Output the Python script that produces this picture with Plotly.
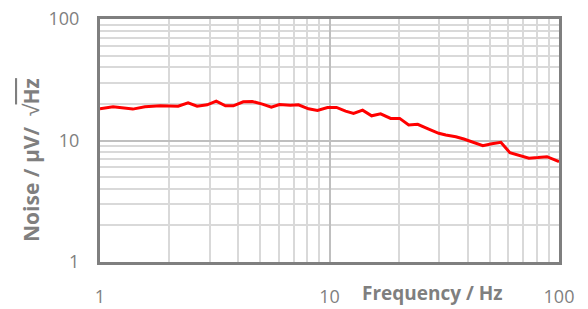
import plotly.graph_objects as go

# Data (frequency in Hz, noise in µV/√Hz)
freq_hz = [1.00, 1.14, 1.39, 1.57, 1.83, 2.19, 2.42, 2.65, 2.93, 3.21,
           3.52, 3.81, 4.21, 4.61, 5.10, 5.58, 6.05, 6.75, 7.32, 8.10,
           8.86, 9.80, 10.73, 11.75, 12.73, 13.94, 15.26, 16.70, 18.47, 20.22,
           22.13, 24.23, 27.06, 29.92, 32.11, 35.50, 38.47, 42.55, 46.58, 50.99,
           55.81, 61.09, 66.89, 73.96, 80.96, 88.63, 100.0]
noise_uv = [18.29, 18.92, 18.13, 18.92, 19.29, 19.18, 20.41, 19.18, 19.65, 21.08,
            19.29, 19.29, 20.80, 20.96, 19.92, 18.82, 19.80, 19.54, 19.65, 18.23,
            17.68, 18.71, 18.71, 17.45, 16.71, 17.78, 15.97, 16.58, 15.20, 15.20,
            13.40, 13.58, 12.42, 11.46, 11.09, 10.74, 10.29, 9.59, 9.06, 9.41,
            9.66, 7.94, 7.60, 7.15, 7.23, 7.36, 6.70]

major_ticks = [1, 10, 100]
major_labels = ["1", "10", "100"]
minor_ticks = [2, 3, 4, 5, 6, 7, 8, 9, 20, 30, 40, 50, 60, 70, 80, 90]

x_title = "<b>Frequency / Hz</b>"
y_title = ("<b>Noise / µV/</b>\u00a0\u00a0√"
           "<span style='text-decoration:overline;font-weight:bold'>Hz</span>")

GRAY = "#7f7f7f"
FONT = "Open Sans"

fig = go.Figure()
fig.add_trace(go.Scatter(
    x=freq_hz, y=noise_uv, mode="lines",
    line=dict(color="#ff0000", width=3),
    showlegend=False, hoverinfo="skip",
))

axis_common = dict(
    type="log",
    tickmode="array",
    tickvals=major_ticks,
    ticktext=major_labels,
    showgrid=True,
    gridcolor="#bfbfbf",
    gridwidth=2,
    minor=dict(tickmode="array", tickvals=minor_ticks, showgrid=True,
               gridcolor="#d9d9d9", gridwidth=2, ticks=""),
    showline=True, linecolor=GRAY, linewidth=3, mirror=True,
    ticks="",
    tickfont=dict(family=FONT, size=18, color=GRAY),
    zeroline=False,
    automargin=False,
)

fig.update_xaxes(range=[0, 2], ticklabelstandoff=16, **axis_common)
fig.update_yaxes(range=[0, 2], ticklabelstandoff=14, **axis_common)

fig.update_layout(
    width=588, height=309,
    margin=dict(l=100, r=29, t=19, b=47, autoexpand=False),
    paper_bgcolor="white", plot_bgcolor="white",
    font=dict(family=FONT, color=GRAY),
    annotations=[
        dict(text=x_title, xref="paper", yref="paper",
             x=(432 - 100) / 459, y=(262 - 293) / 243,
             xanchor="center", yanchor="middle", showarrow=False,
             font=dict(family=FONT, size=19, color=GRAY)),
        dict(text=y_title, xref="paper", yref="paper",
             x=(31 - 100) / 459, y=(262 - 160) / 243,
             xanchor="center", yanchor="middle", showarrow=False, textangle=-90,
             font=dict(family=FONT, size=21, color=GRAY)),
    ],
)

fig.write_html(
    "out.html",
    config={"displayModeBar": False},
    post_script="document.body.style.margin='0';document.body.style.overflow='hidden';",
)
